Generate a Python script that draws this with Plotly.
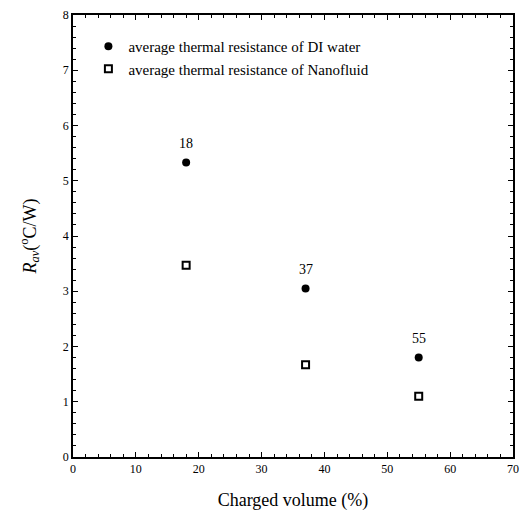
import plotly.graph_objects as go

charged_volume = [18, 37, 55]
di_water = [5.33, 3.05, 1.8]
nanofluid = [3.47, 1.67, 1.1]
labels = [str(v) for v in charged_volume]

FONT = "Liberation Serif"

fig = go.Figure()
fig.add_trace(go.Scatter(
    x=charged_volume, y=di_water, mode="markers",
    name="average thermal resistance of DI water",
    marker=dict(symbol="circle", size=8, color="black"),
))
fig.add_trace(go.Scatter(
    x=charged_volume, y=nanofluid, mode="markers",
    name="average thermal resistance of Nanofluid",
    marker=dict(symbol="square-open", size=7, color="black", line=dict(width=2)),
))
for xv, yv, lab in zip(charged_volume, di_water, labels):
    fig.add_annotation(x=xv, y=yv, text=lab, showarrow=False, yshift=19,
                       font=dict(family=FONT, size=14, color="black"))

axis_common = dict(
    showgrid=False, zeroline=False, showline=True, linecolor="black", linewidth=1.5,
    mirror="allticks", ticks="inside", ticklen=5, tickwidth=1.2, tickcolor="black",
    tickfont=dict(family=FONT, size=12, color="black"), automargin=False,
)
fig.update_xaxes(range=[0, 70], dtick=10,
                 minor=dict(dtick=2, ticks="inside", ticklen=3, tickcolor="black"),
                 title=dict(text="Charged volume (%)", font=dict(family=FONT, size=18, color="black"), standoff=18),
                 **axis_common)
fig.update_yaxes(range=[0, 8], dtick=1,
                 minor=dict(dtick=0.2, ticks="inside", ticklen=3, tickcolor="black"),
                 title=dict(text="<i>R</i><sub><i>av</i></sub>(<sup>o</sup>C/W)", font=dict(family=FONT, size=18, color="black"), standoff=22),
                 **axis_common)

fig.update_layout(
    width=530, height=520,
    margin=dict(l=65, r=25, t=7, b=71),
    paper_bgcolor="white", plot_bgcolor="white",
    legend=dict(x=0.035, y=0.966, xanchor="left", yanchor="top",
                bgcolor="rgba(0,0,0,0)", font=dict(family=FONT, size=15, color="black")),
)

fig.write_html("out.html")
